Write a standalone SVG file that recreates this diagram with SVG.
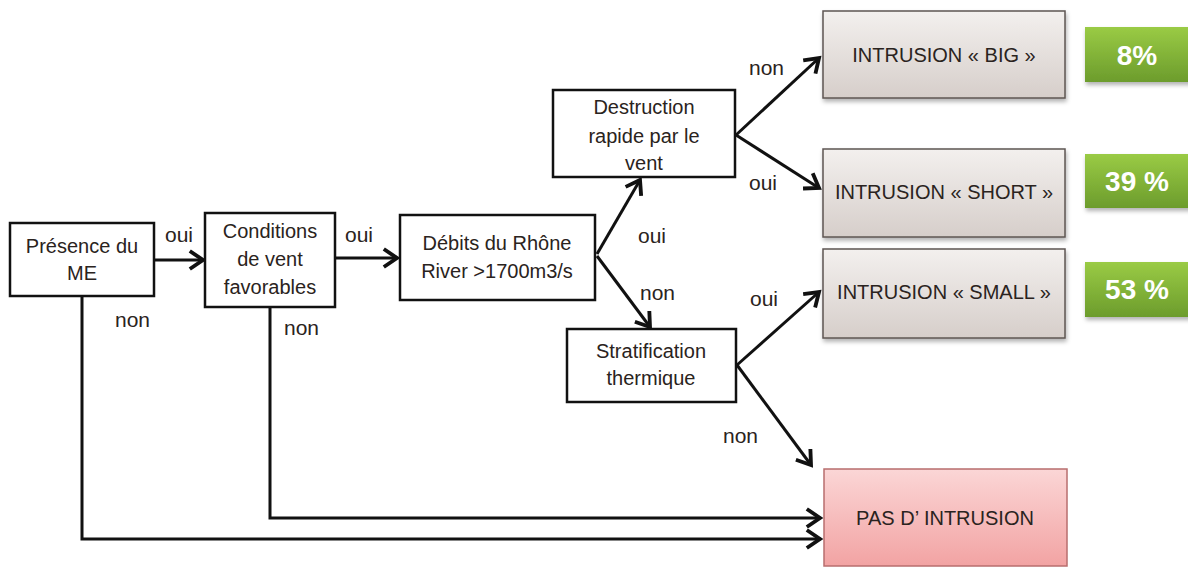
<svg xmlns="http://www.w3.org/2000/svg" width="1188" height="568" viewBox="0 0 1188 568">
<defs>
<style>
text{font-family:"Liberation Sans",Arial,sans-serif;fill:#2a2320}
.box{fill:#fff;stroke:#111;stroke-width:2.5}
.t{font-size:20px;text-anchor:middle}
.lbl{font-size:21px}
.gray{fill:url(#gGray);stroke:#5e5652;stroke-width:1.5}
.pink{fill:url(#gPink);stroke:#b86e6e;stroke-width:1.5}
.green{fill:url(#gGreen)}
.pct{font-size:28px;font-weight:bold;fill:#fff;text-anchor:middle}
.c{fill:none;stroke:#111;stroke-width:3;marker-end:url(#arr)}
</style>
<linearGradient id="gGray" x1="0" y1="0" x2="0" y2="1"><stop offset="0" stop-color="#f3f0ee"/><stop offset="1" stop-color="#d6ceca"/></linearGradient>
<linearGradient id="gPink" x1="0" y1="0" x2="0" y2="1"><stop offset="0" stop-color="#fbd6d6"/><stop offset="1" stop-color="#f2a3a3"/></linearGradient>
<linearGradient id="gGreen" x1="0" y1="0" x2="0" y2="1"><stop offset="0" stop-color="#9acb45"/><stop offset="1" stop-color="#6c9c2c"/></linearGradient>
<filter id="sh" x="-10%" y="-10%" width="130%" height="140%"><feDropShadow dx="1" dy="3" stdDeviation="2" flood-color="#000" flood-opacity="0.3"/></filter>
<marker id="arr" markerUnits="userSpaceOnUse" markerWidth="24" markerHeight="24" viewBox="-14 -10 16 20" refX="0" refY="0" orient="auto">
<path d="M-11,-7.5 L0,0 L-11,7.5" fill="none" stroke="#111" stroke-width="3.2" stroke-linejoin="miter"/>
</marker>
</defs>
<rect width="1188" height="568" fill="#fff"/>

<g id="connectors">
<line class="c" x1="154" y1="260" x2="203" y2="260"/>
<line class="c" x1="335" y1="258" x2="397" y2="258"/>
<polyline class="c" points="82,296 82,539 820,539"/>
<polyline class="c" points="270,307 270,518 820,518"/>
<line class="c" x1="597" y1="254" x2="640" y2="180"/>
<line class="c" x1="597" y1="256" x2="650" y2="327"/>
<line class="c" x1="736" y1="135" x2="819" y2="58"/>
<line class="c" x1="736" y1="135" x2="819" y2="188"/>
<line class="c" x1="737" y1="365" x2="819" y2="292"/>
<line class="c" x1="737" y1="365" x2="811" y2="465"/>
<text class="lbl" x="165" y="242">oui</text>
<text class="lbl" x="345" y="242">oui</text>
<text class="lbl" x="115" y="327">non</text>
<text class="lbl" x="284" y="335">non</text>
<text class="lbl" x="638" y="243">oui</text>
<text class="lbl" x="640" y="300">non</text>
<text class="lbl" x="749" y="75">non</text>
<text class="lbl" x="749" y="190">oui</text>
<text class="lbl" x="750" y="306">oui</text>
<text class="lbl" x="723" y="443">non</text>
</g>

<g id="n-presence">
<rect class="box" x="10" y="223" width="144" height="73"/>
<text class="t" x="82" y="253">Présence du</text>
<text class="t" x="82" y="280">ME</text>
</g>
<g id="n-conditions">
<rect class="box" x="205" y="213" width="130" height="94"/>
<text class="t" x="270" y="238">Conditions</text>
<text class="t" x="270" y="266">de vent</text>
<text class="t" x="270" y="294">favorables</text>
</g>
<g id="n-debits">
<rect class="box" x="400" y="215" width="195" height="85"/>
<text class="t" x="497" y="250">Débits du Rhône</text>
<text class="t" x="497" y="278">River &gt;1700m3/s</text>
</g>
<g id="n-destruction">
<rect class="box" x="553" y="90" width="182" height="87"/>
<text class="t" x="644" y="114">Destruction</text>
<text class="t" x="644" y="143">rapide par le</text>
<text class="t" x="644" y="170">vent</text>
</g>
<g id="n-stratification">
<rect class="box" x="567" y="329" width="169" height="73"/>
<text class="t" x="651" y="358">Stratification</text>
<text class="t" x="651" y="385">thermique</text>
</g>
<g id="n-big">
<rect class="gray" x="823" y="11" width="242" height="87" filter="url(#sh)"/>
<text class="t" x="944" y="62">INTRUSION « BIG »</text>
</g>
<g id="n-short">
<rect class="gray" x="823" y="149" width="242" height="88" filter="url(#sh)"/>
<text class="t" x="944" y="199">INTRUSION « SHORT »</text>
</g>
<g id="n-small">
<rect class="gray" x="823" y="249" width="242" height="89" filter="url(#sh)"/>
<text class="t" x="944" y="299">INTRUSION « SMALL »</text>
</g>
<g id="n-pas">
<rect class="pink" x="824" y="469" width="243" height="97"/>
<text class="t" x="945" y="525">PAS D’ INTRUSION</text>
</g>
<g id="p-big">
<rect class="green" x="1085" y="27" width="110" height="55" filter="url(#sh)"/>
<text class="pct" x="1137" y="65">8%</text>
</g>
<g id="p-short">
<rect class="green" x="1085" y="154" width="110" height="54" filter="url(#sh)"/>
<text class="pct" x="1137" y="191">39 %</text>
</g>
<g id="p-small">
<rect class="green" x="1085" y="262" width="110" height="55" filter="url(#sh)"/>
<text class="pct" x="1137" y="299">53 %</text>
</g>
</svg>
